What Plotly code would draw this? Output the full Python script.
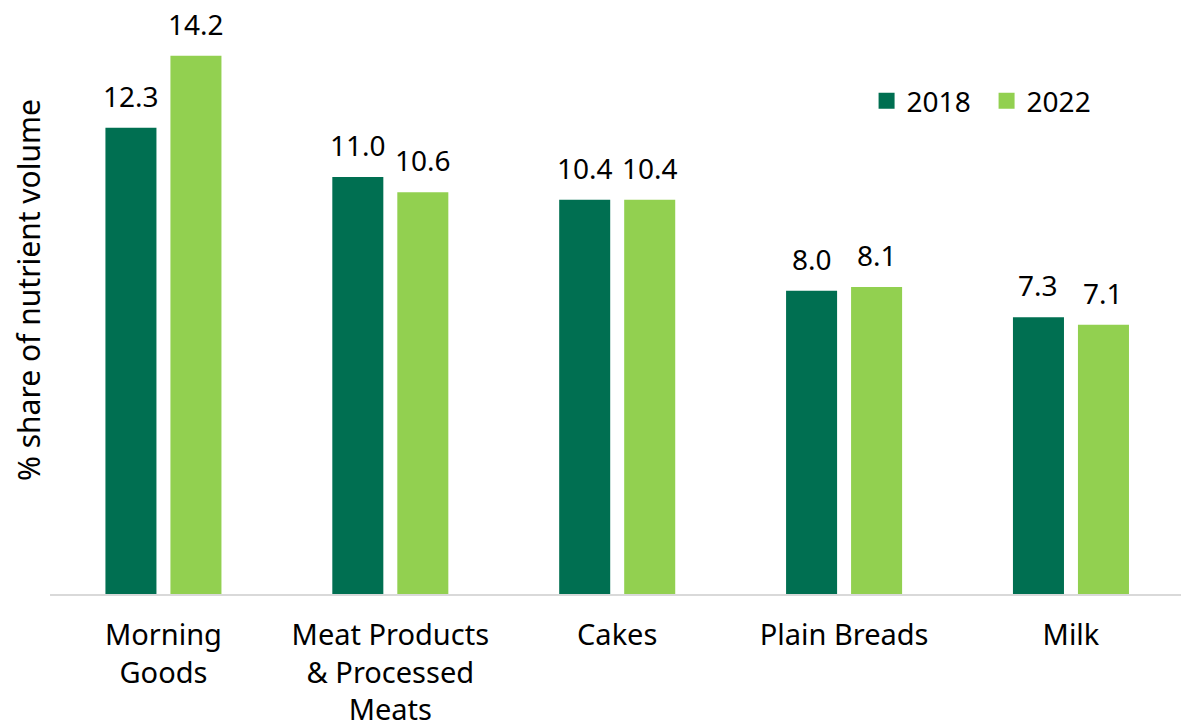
import plotly.graph_objects as go

categories = ["Morning<br>Goods", "Meat Products<br>& Processed<br>Meats", "Cakes", "Plain Breads", "Milk"]
values_2018 = [12.3, 11.0, 10.4, 8.0, 7.3]
values_2022 = [14.2, 10.6, 10.4, 8.1, 7.1]
series_names = ["2018", "2022"]
colors = ["#006F51", "#92D050"]

FONT = "Noto Sans"
fig = go.Figure()

offsets = [-32.5, 32.5]
for name, vals, col, dx in zip(series_names, [values_2018, values_2022], colors, offsets):
    fig.add_trace(go.Bar(
        x=categories, y=vals, name=name,
        marker=dict(color=col, line=dict(width=0)),
        showlegend=False,
    ))
    # value labels above each bar
    for c, v in zip(categories, vals):
        fig.add_annotation(
            x=c, y=v, text=f"{v:.1f}", showarrow=False,
            xshift=dx, yshift=11, yanchor="bottom",
            font=dict(family=FONT, size=28, color="#000000"),
        )
    # legend swatch
    fig.add_trace(go.Scatter(
        x=[None], y=[None], mode="markers", name=name,
        marker=dict(symbol="square", size=18, color=col),
        showlegend=True,
    ))

fig.add_annotation(
    text="% share of nutrient volume", textangle=-90,
    xref="paper", yref="paper", x=-0.0195, y=0.524,
    xanchor="center", yanchor="middle", showarrow=False,
    font=dict(family=FONT, size=30, color="#000000"),
)

fig.update_layout(
    width=1181, height=727,
    margin=dict(l=50, r=0, t=14, b=133, autoexpand=False),
    paper_bgcolor="white", plot_bgcolor="white",
    barmode="group", bargap=0.427, bargroupgap=0.215,
    font=dict(family=FONT, size=30, color="#000000"),
    legend=dict(
        orientation="h", x=0.722, y=0.85, xanchor="left", yanchor="middle",
        font=dict(family=FONT, size=28), itemsizing="trace",
        entrywidth=75, entrywidthmode="pixels",
        bgcolor="rgba(0,0,0,0)", tracegroupgap=0,
    ),
    xaxis=dict(
        showline=True, linecolor="#D9D9D9", linewidth=2,
        ticks="", showgrid=False, range=[-0.5, 4.485], automargin=False,
        tickfont=dict(family=FONT, size=29), ticklabelstandoff=14,
    ),
    yaxis=dict(
        range=[0, 15.3], showticklabels=False, showgrid=False,
        zeroline=False, showline=False, ticks="", automargin=False,
    ),
)

fig.write_html("out.html")
